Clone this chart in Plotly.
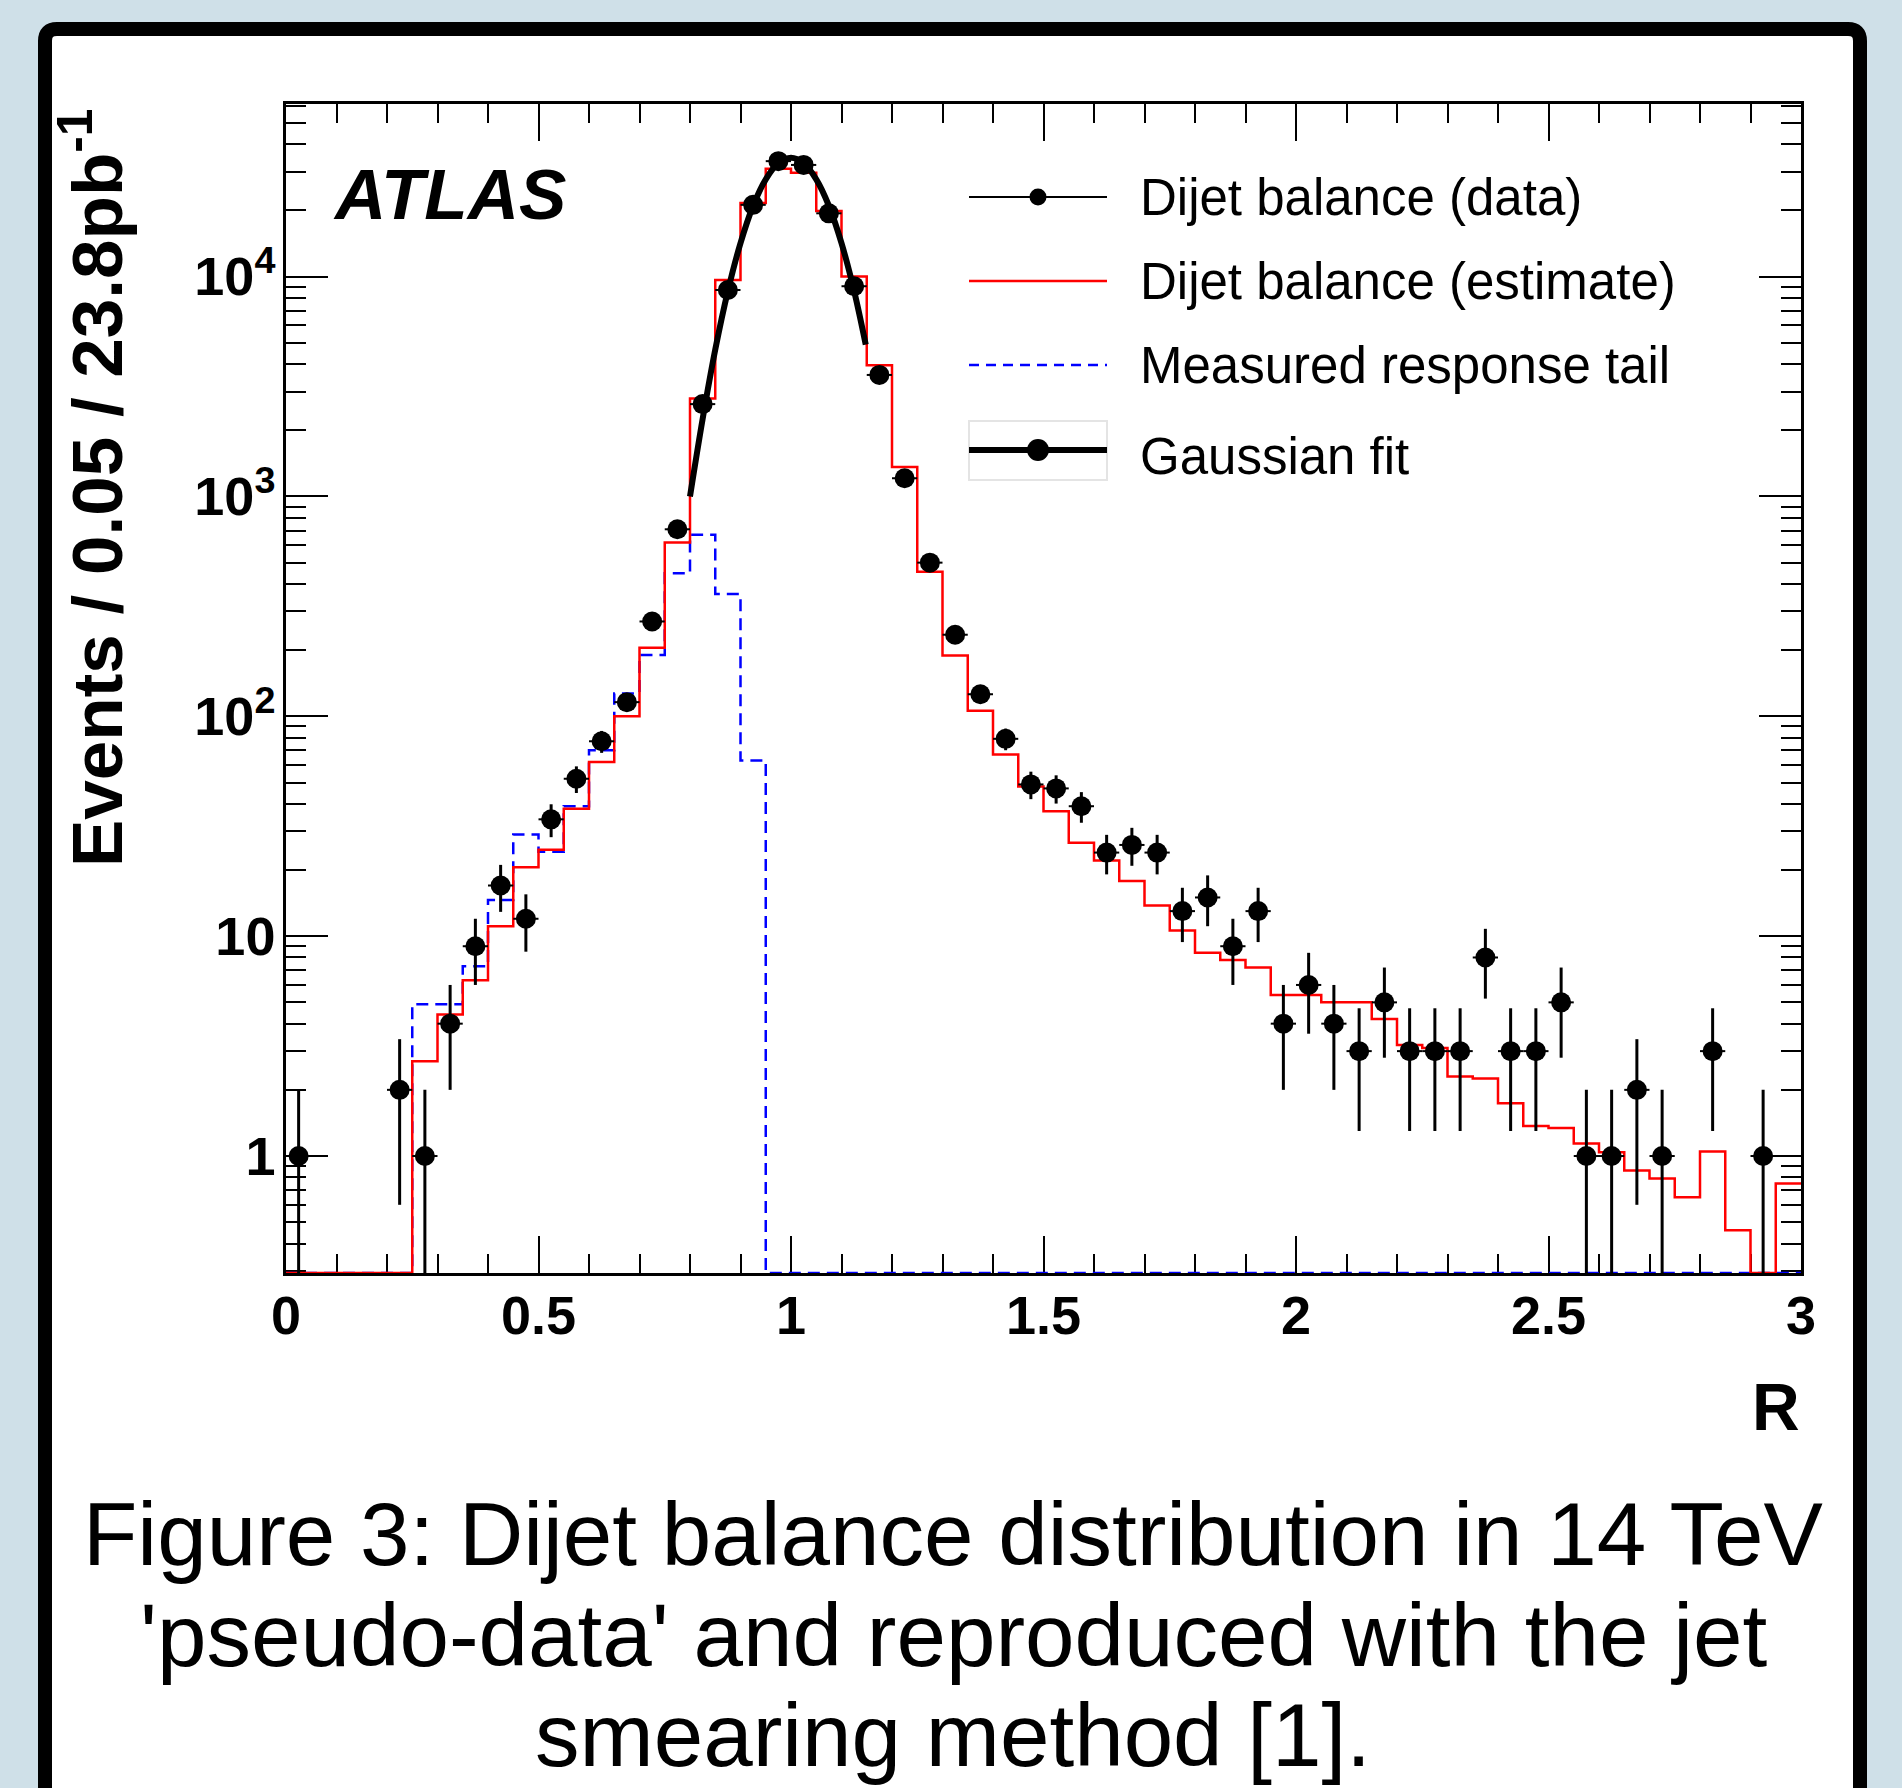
import math
import plotly.graph_objects as go

# ---------------- data ----------------
bin_width = 0.05

data_R = [0.025, 0.225, 0.275, 0.325, 0.375, 0.425, 0.475, 0.525, 0.575, 0.625,
          0.675, 0.725, 0.775, 0.825, 0.875, 0.925, 0.975, 1.025, 1.075, 1.125,
          1.175, 1.225, 1.275, 1.325, 1.375, 1.425, 1.475, 1.525, 1.575, 1.625,
          1.675, 1.725, 1.775, 1.825, 1.875, 1.925, 1.975, 2.025, 2.075, 2.125,
          2.175, 2.225, 2.275, 2.325, 2.375, 2.425, 2.475, 2.525, 2.575, 2.625,
          2.675, 2.725, 2.825, 2.925]
data_N = [1, 2, 1, 4, 9, 17, 12, 34, 52, 77,
          116, 270, 709, 2630, 8690, 21200, 33500, 32200, 19400, 9040,
          3570, 1210, 500, 235, 126, 79, 49, 47, 39, 24,
          26, 24, 13, 15, 9, 13, 4, 6, 4, 3,
          5, 3, 3, 3, 8, 3, 3, 5, 1, 1,
          2, 1, 3, 1]
data_err = [1, 1.4, 1, 2, 3, 4.1, 3.5, 5.8, 7.2, 8.8,
            10.8, 16.4, 26.6, 51, 93, 146, 183, 179, 139, 95,
            60, 35, 22.4, 15.3, 11.2, 8.9, 7, 6.9, 6.2, 4.9,
            5.1, 4.9, 3.6, 3.9, 3, 3.6, 2, 2.4, 2, 1.7,
            2.2, 1.7, 1.7, 1.7, 2.8, 1.7, 1.7, 2.2, 1, 1,
            1.4, 1, 1.7, 1]

# Dijet balance (estimate), one value per 0.05 bin from R=0 to R=3
est_N = [0, 0, 0, 0, 0,
         2.7, 4.4, 6.3, 11.1, 20.6, 24.7, 38, 62, 100, 205,
         617, 2790, 9650, 21600, 30900, 29700, 19900, 10000, 3950, 1360,
         454, 189, 106, 67, 48, 37, 26.6, 22.1, 17.8, 13.8,
         10.6, 8.4, 7.8, 7.2, 5.4, 5.4, 5.0, 5.0, 4.2, 3.2,
         3.1, 2.3, 2.25, 1.74, 1.37, 1.34, 1.14, 1.04, 0.86, 0.79,
         0.65, 1.05, 0.46, 0, 0.75]

# Measured response tail, one value per 0.05 bin
tail_N = [0, 0, 0, 0, 0,
          4.9, 4.9, 7.3, 14.6, 29, 24.2, 39, 70, 127, 190,
          447, 670, 360, 63, 0, 0, 0, 0, 0, 0,
          0, 0, 0, 0, 0, 0, 0, 0, 0, 0,
          0, 0, 0, 0, 0, 0, 0, 0, 0, 0,
          0, 0, 0, 0, 0, 0, 0, 0, 0, 0,
          0, 0, 0, 0, 0]

# Gaussian fit curve
fit_R = [0.80, 0.825, 0.85, 0.875, 0.90, 0.925, 0.95, 0.975, 1.00,
         1.025, 1.05, 1.075, 1.10, 1.125, 1.148]
fit_N = [1000, 2250, 4650, 8600, 14200, 21000, 27700, 32800, 34700,
         32800, 27700, 21000, 14200, 8600, 4900]

x_tickvals = [0, 0.5, 1, 1.5, 2, 2.5, 3]
x_ticktext = ["0", "0.5", "1", "1.5", "2", "2.5", "3"]
y_tickvals = [1, 10, 100, 1000, 10000]
y_ticktext = ["1", "10", "10<sup>2</sup>", "10<sup>3</sup>", "10<sup>4</sup>"]

legend_labels = ["Dijet balance (data)", "Dijet balance (estimate)",
                 "Measured response tail", "Gaussian fit"]
caption_lines = ["Figure 3: Dijet balance distribution in 14 TeV",
                 "'pseudo-data' and reproduced with the jet",
                 "smearing method [1]."]

# ---------------- geometry ----------------
FIG_W, FIG_H = 1902, 1788
L, T, RGT, B = 286, 104, 1801, 1273
W, H = RGT - L, B - T
Y_LOG_RANGE = [-0.532, 4.785]
y_floor = 10 ** Y_LOG_RANGE[0]


def px(x):
    return (x - L) / W


def py(y):
    return (B - y) / H


edges = [round(i * bin_width, 2) for i in range(len(est_N) + 1)]


def step(vals):
    ys = [v if v > 0 else y_floor for v in vals]
    return edges, ys + [ys[-1]]


FONT = "Liberation Sans"
fig = go.Figure()

tx, ty = step(tail_N)
fig.add_trace(go.Scatter(x=tx, y=ty, mode="lines", name=legend_labels[2],
                         line=dict(color="#0000ff", width=2.5, dash="12px,7px", shape="hv"),
                         showlegend=False))
ex, ey = step(est_N)
fig.add_trace(go.Scatter(x=ex, y=ey, mode="lines", name=legend_labels[1],
                         line=dict(color="#ff0000", width=2.5, shape="hv"),
                         showlegend=False))
fig.add_trace(go.Scatter(x=data_R, y=data_N, mode="markers", name=legend_labels[0],
                         marker=dict(color="black", size=20),
                         error_y=dict(type="data", array=data_err, color="black",
                                      thickness=3, width=0),
                         error_x=dict(type="constant", value=bin_width / 2, color="black",
                                      thickness=2, width=0),
                         showlegend=False))
fig.add_trace(go.Scatter(x=fit_R, y=fit_N, mode="lines", name=legend_labels[3],
                         line=dict(color="black", width=6, shape="spline"),
                         showlegend=False))

x_minor = [round(0.1 * i, 1) for i in range(31) if i % 5]
y_minor = [m * 10 ** e for e in range(-1, 5) for m in range(2, 10)
           if Y_LOG_RANGE[0] < math.log10(m * 10 ** e) < Y_LOG_RANGE[1]]

shapes = []
# white card with black border
x0, x1 = px(45), px(1860)
ytop, ybot = py(29), py(1820)
rx, ry = 12 / W, 12 / H
shapes.append(dict(type="path", xref="paper", yref="paper", layer="below",
                   path=(f"M {x0},{ybot} L {x0},{ytop - ry} Q {x0},{ytop} {x0 + rx},{ytop} "
                         f"L {x1 - rx},{ytop} Q {x1},{ytop} {x1},{ytop - ry} L {x1},{ybot} Z"),
                   fillcolor="white", line=dict(color="black", width=14)))

# legend (drawn by hand, ROOT style)
LX0, LX1, LMX, LTX = 969, 1107, 1038, 1138
rows = [197, 281, 365, 450]
text_rows = [197, 281, 365, 456]
shapes.append(dict(type="rect", xref="paper", yref="paper",
                   x0=px(LX0), x1=px(LX1), y0=py(480), y1=py(421),
                   line=dict(color="#e4e4e4", width=2), fillcolor="white"))
styles = [dict(color="black", width=2), dict(color="#ff0000", width=2.5),
          dict(color="#0000ff", width=2.5, dash="10px,7px"), dict(color="black", width=6)]
for ry_, st in zip(rows, styles):
    shapes.append(dict(type="line", xref="paper", yref="paper",
                       x0=px(LX0), x1=px(LX1), y0=py(ry_), y1=py(ry_), line=st))
for ry_, r in [(rows[0], 8.5), (rows[3], 11)]:
    shapes.append(dict(type="circle", xref="paper", yref="paper",
                       x0=px(LMX - r), x1=px(LMX + r), y0=py(ry_ + r), y1=py(ry_ - r),
                       fillcolor="black", line=dict(color="black", width=0)))

annotations = []
for lab, ty_ in zip(legend_labels, text_rows):
    annotations.append(dict(text=lab, xref="paper", yref="paper", x=px(LTX), y=py(ty_),
                            xanchor="left", yanchor="middle", showarrow=False,
                            font=dict(family=FONT, size=51, color="black")))
annotations.append(dict(text="<i>ATLAS</i>", xref="paper", yref="paper", x=px(331), y=py(195),
                        xanchor="left", yanchor="middle", showarrow=False,
                        font=dict(family=FONT, size=71, color="black", weight="bold")))
annotations.append(dict(text="Events / 0.05 / 23.8pb<sup>-1</sup>", xref="paper", yref="paper",
                        x=px(92), y=py(488), xanchor="center", yanchor="middle",
                        textangle=-90, showarrow=False,
                        font=dict(family=FONT, size=71, color="black", weight="bold")))
annotations.append(dict(text="R", xref="paper", yref="paper", x=px(1802), y=py(1407),
                        xanchor="right", yanchor="middle", showarrow=False,
                        font=dict(family=FONT, size=66, color="black", weight="bold")))
for line, cy in zip(caption_lines, [1534, 1635, 1735]):
    annotations.append(dict(text=line, xref="paper", yref="paper", x=px(953), y=py(cy),
                            xanchor="center", yanchor="middle", showarrow=False,
                            font=dict(family=FONT, size=89, color="black")))

axis_common = dict(showgrid=False, zeroline=False, showline=True, linecolor="black",
                   linewidth=2.5, mirror="ticks", ticks="inside", tickcolor="black",
                   tickwidth=2, layer="below traces",
                   tickfont=dict(family=FONT, size=54, color="black", weight="bold"))

fig.update_layout(
    width=FIG_W, height=FIG_H, autosize=False,
    margin=dict(l=L, r=FIG_W - RGT, t=T, b=FIG_H - B, pad=0),
    paper_bgcolor="#cfe0e8", plot_bgcolor="white",
    showlegend=False,
    xaxis=dict(range=[0, 3], tickmode="array", tickvals=x_tickvals, ticktext=x_ticktext,
               ticklen=37, ticklabelstandoff=-7,
               minor=dict(tickmode="array", tickvals=x_minor, ticks="inside", ticklen=19,
                          tickwidth=2, tickcolor="black"),
               **axis_common),
    yaxis=dict(type="log", range=Y_LOG_RANGE, tickmode="array", tickvals=y_tickvals,
               ticktext=y_ticktext, ticklen=42, ticklabelstandoff=-3,
               minor=dict(tickmode="array", tickvals=y_minor, ticks="inside", ticklen=20,
                          tickwidth=2, tickcolor="black"),
               **axis_common),
    shapes=shapes,
    annotations=annotations,
)

fig.write_html("out.html", config={"displayModeBar": False},
               post_script="document.body.style.margin='0';document.body.style.overflow='hidden';")
